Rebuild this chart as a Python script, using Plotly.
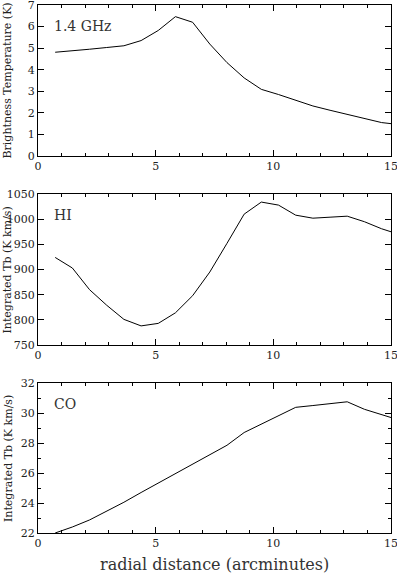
import plotly.graph_objects as go
from plotly.subplots import make_subplots

# radial distance (arcminutes), common to all three profiles
radius = [0.73, 1.46, 2.19, 2.92, 3.65, 4.38, 5.11, 5.84, 6.57, 7.3, 8.03,
          8.76, 9.49, 10.22, 10.95, 11.68, 12.41, 13.14, 13.87, 14.6, 15.0]

# 1.4 GHz brightness temperature (K)
tb_14ghz = [4.81, 4.87, 4.95, 5.03, 5.11, 5.35, 5.82, 6.46, 6.2, 5.19, 4.33,
            3.62, 3.09, 2.85, 2.58, 2.32, 2.12, 1.93, 1.73, 1.55, 1.50]

# HI integrated Tb (K km/s)
tb_hi = [924, 903, 860, 829, 801, 788, 793, 814, 848, 895, 952,
         1010, 1034, 1028, 1008, 1002, 1004, 1006, 995, 981, 975]

# CO integrated Tb (K km/s)
tb_co = [22.0, 22.4, 22.87, 23.45, 24.05, 24.7, 25.32, 25.95, 26.6, 27.2, 27.85,
         28.7, 29.25, 29.85, 30.38, 30.5, 30.6, 30.75, 30.25, 29.9, 29.7]

panel_names = ["1.4 GHz", "HI", "CO"]
y_titles = ["Brightness Temperature (K)", "Integrated Tb (K km/s)", "Integrated Tb (K km/s)"]
y_ranges = [[0, 7], [750, 1050], [22, 32]]
y_dticks = [1, 50, 2]
y_minor = [1, 50, 1]

serif = "DejaVu Serif"

fig = make_subplots(rows=3, cols=1)
for i, ys in enumerate([tb_14ghz, tb_hi, tb_co]):
    fig.add_trace(go.Scatter(x=radius, y=ys, mode="lines",
                             line=dict(color="black", width=1),
                             showlegend=False), row=i + 1, col=1)

domains = [[0.714, 1.0], [0.356, 0.642], [0.0, 0.284]]
for i in range(3):
    ax = dict(showline=True, linecolor="black", linewidth=1, mirror="allticks",
              ticks="inside", ticklen=6, tickcolor="black", showgrid=False,
              zeroline=False, automargin=False, ticklabeloverflow="allow",
              tickfont=dict(family=serif, size=11, color="#222"))
    fig.update_xaxes(range=[0, 15], dtick=5, tick0=0,
                     minor=dict(dtick=1, ticks="inside", ticklen=3, tickcolor="black"),
                     **ax, row=i + 1, col=1)
    fig.update_yaxes(range=y_ranges[i], dtick=y_dticks[i], domain=domains[i],
                     minor=dict(dtick=y_minor[i], ticks="inside", ticklen=3, tickcolor="black"),
                     **ax, row=i + 1, col=1)
    yref = "y domain" if i == 0 else f"y{i + 1} domain"
    xref = "x domain" if i == 0 else f"x{i + 1} domain"
    fig.add_annotation(text=panel_names[i], x=0.04, y=0.86, xref=xref, yref=yref,
                       xanchor="left", yanchor="middle", showarrow=False,
                       font=dict(family=serif, size=14, color="#333"))
    fig.add_annotation(text=y_titles[i], x=-0.085, y=0.5, xref="paper", yref=yref,
                       xanchor="center", yanchor="middle", textangle=-90, showarrow=False,
                       font=dict(family=serif, size=11, color="#222"))

fig.add_annotation(text="radial distance (arcminutes)", x=0.5, y=-0.06,
                   xref="paper", yref="paper", xanchor="center", yanchor="middle",
                   showarrow=False, font=dict(family=serif, size=16, color="#333"))

fig.update_layout(width=397, height=575, margin=dict(l=38, r=6, t=5, b=42),
                  plot_bgcolor="white", paper_bgcolor="white")
# drop the default 8px page margin so the figure sits at the window corner
fig.write_html("out.html", config={"displayModeBar": False},
               post_script="document.body.style.margin='0';")
